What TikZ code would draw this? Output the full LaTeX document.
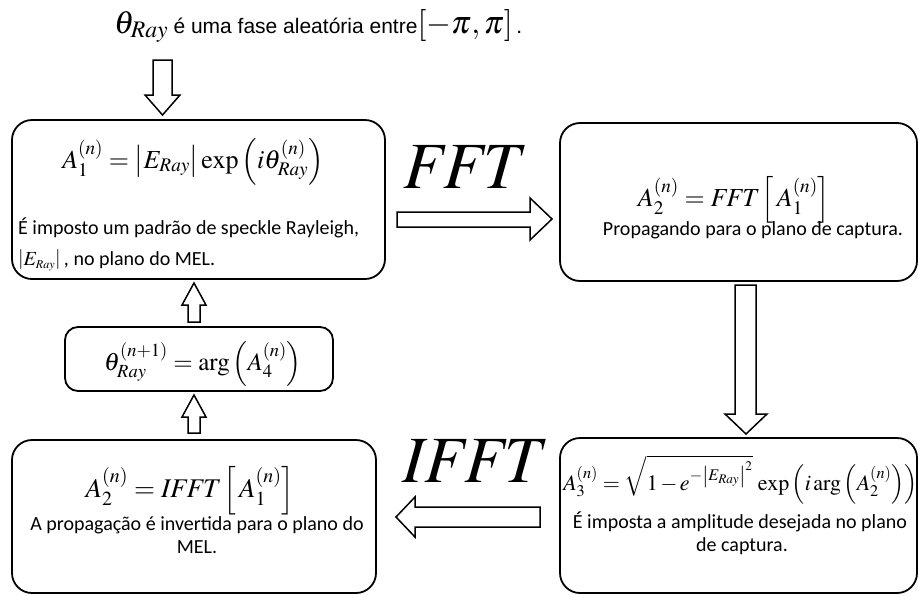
\documentclass[tikz,border=0pt]{standalone}
\usepackage{mathptmx}
\usepackage[no-math]{fontspec}
\setmainfont{Carlito}
\newfontfamily\arialf{Liberation Sans}
\begin{document}
\begin{tikzpicture}[x=1pt,y=-1pt,
  box/.style={draw,line width=1.8pt,inner sep=0pt,outer sep=0pt},
  barrow/.style={draw,line width=1.5pt,fill=white,line join=miter},
  eqn/.style={inner sep=0pt,anchor=base,font=\fontsize{26}{30}\selectfont},
  body/.style={inner sep=0pt,font=\fontsize{20}{24}\selectfont},
  biglabel/.style={inner sep=0pt,anchor=base west,font=\fontsize{66}{66}\selectfont}]
\useasboundingbox (0,0) rectangle (919,595);

% boxes
\node[box,rounded corners=20pt,minimum width=373pt,minimum height=159pt] (b1) at (198.5,199.5) {};
\node[box,rounded corners=20pt,minimum width=357pt,minimum height=158pt] (b2) at (738.5,202) {};
\node[box,rounded corners=20pt,minimum width=357pt,minimum height=155pt] (b3) at (738.5,515.5) {};
\node[box,rounded corners=20pt,minimum width=364pt,minimum height=153pt] (b4) at (194,516.5) {};
\node[box,rounded corners=13pt,minimum width=268pt,minimum height=64pt] (bt) at (199,359) {};

% top text
\node[inner sep=0pt,anchor=base west] (top) at (114,33)
 {\fontsize{32}{36}\selectfont$\theta_{Ray}$\,{\arialf\fontsize{21}{24}\selectfont é uma fase aleatória entre}$\left[-\pi,\pi\right]${\arialf\fontsize{21}{24}\selectfont\,.}};

% box 1
\node[eqn] (e1) at (193,168) {$A_1^{(n)}=\left|E_{Ray}\right|\exp\left(i\theta_{Ray}^{(n)}\right)$};
\node[body,anchor=base west] (t1a) at (18,234) {É imposto um padrão de speckle Rayleigh,};
\node[body,anchor=base west] (t1b) at (18,265) {\fontsize{20}{24}\selectfont$\left|E_{\scriptscriptstyle Ray}\right|$\,, no plano do MEL.};

% box 2
\node[eqn] (e2) at (734,206) {$A_2^{(n)}=\mathit{FFT}\left[\,A_1^{(n)}\right]$};
\node[body,anchor=base] (t2) at (753,235) {Propagando para o plano de captura.};

% box theta
\node[eqn,font=\fontsize{25}{30}\selectfont] (et) at (203,370) {$\theta_{Ray}^{(n+1)}=\arg\left(A_4^{(n)}\right)$};

% box 3
\node[eqn,font=\fontsize{22}{26}\selectfont] (e3) at (740.5,490)
 {$\medmuskip=2mu\thickmuskip=4mu A_3^{(n)}=\sqrt{1-e^{-\left|E_{Ray}\right|^{2}}}\,\exp\left(i\arg\left(A_2^{(n)}\right)\right)$};
\node[body,anchor=base] (t3a) at (740,528) {É imposta a amplitude desejada no plano};
\node[body,anchor=base] (t3b) at (742,551) {de captura.};

% box 4
\node[eqn,font=\fontsize{27}{30}\selectfont] (e4) at (190,497) {$A_2^{(n)}=\mathit{IFFT}\left[\,A_1^{(n)}\right]$};
\node[body,anchor=base] (t4a) at (197,530) {A propagação é invertida para o plano do};
\node[body,anchor=base] (t4b) at (197,553) {MEL.};

% labels
\node[biglabel] (lfft) at (403,188) {$\mathit{FFT}$};
\node[biglabel] (lifft) at (402,482) {$\mathit{IFFT}$};

% block arrows
\draw[barrow] (153,60) -- (172,60) -- (172,95) -- (180,95) -- (162.5,115) -- (145,95) -- (153,95) -- cycle;
\draw[barrow] (188,322) -- (200,322) -- (200,305) -- (206,305) -- (194,283) -- (182,305) -- (188,305) -- cycle;
\draw[barrow] (188,433) -- (200,433) -- (200,417) -- (206,417) -- (194,395) -- (182,417) -- (188,417) -- cycle;
\draw[barrow] (397,212) -- (530,212) -- (530,198) -- (552,219) -- (530,240) -- (530,227) -- (397,227) -- cycle;
\draw[barrow] (735,285) -- (756,285) -- (756,414) -- (767,414) -- (746,434) -- (725,414) -- (735,414) -- cycle;
\draw[barrow] (540,507) -- (415,507) -- (415,497) -- (396,517) -- (415,537) -- (415,527) -- (540,527) -- cycle;
\end{tikzpicture}
\end{document}
